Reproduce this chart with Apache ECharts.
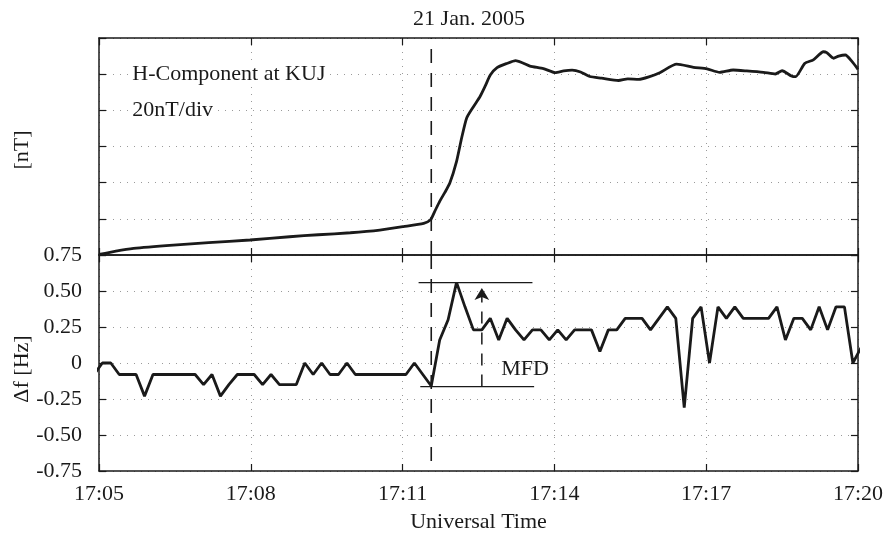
<!DOCTYPE html>
<html><head><meta charset="utf-8">
<script src="https://cdn.jsdelivr.net/npm/echarts@6/dist/echarts.min.js"></script>
<style>html,body{margin:0;padding:0;background:#fff}#c{width:886px;height:535px}</style>
</head><body><div id="c"></div>
<script>
// x values: seconds after 17:05:00 UT
const xTickLabels = ['17:05', '17:08', '17:11', '17:14', '17:17', '17:20'];
const fTickLabels = ['-0.75', '-0.50', '-0.25', '0', '0.25', '0.50', '0.75'];

// H-component at KUJ (nT above start level)
const hTimes = [0, 20, 41, 88, 130, 179, 226, 260, 298, 333, 361, 385, 393, 398, 404, 410, 416, 424, 430, 436,
  444, 452, 458, 464, 472, 483, 494, 502, 511, 527, 541, 551, 561, 571, 582, 596, 616, 627, 640, 652,
  665, 685, 705, 721, 736, 752, 768, 788, 802, 810, 821, 826, 837, 847, 859, 863, 871, 877, 885, 893, 900];
const hValues = [0.3, 2.2, 3.7, 5.5, 6.8, 8.3, 10.1, 11.2, 12.3, 13.8, 15.7, 17.5, 19.4, 24, 29.7, 34.5, 39.8, 51.8, 64.7, 75.8,
  82, 87.8, 93.5, 99.5, 103.6, 105.8, 107.5, 106.3, 104.5, 103.1, 100.9, 101.8, 102.2, 101.2, 98.7, 97.8, 96.5, 97.4, 97.1, 98.5,
  100.8, 105.5, 103.8, 102.9, 101, 102.3, 101.8, 101, 100.1, 101.9, 99, 98.6, 106, 107.9, 112.4, 111.9, 108.8, 110, 110.6, 106.9, 102.7];

// Doppler frequency shift, 10 s samples starting 17:04:54
const dfStart = -6, dfStep = 10;
const dfValues = [-0.08, 0, 0, -0.08, -0.08, -0.08, -0.23, -0.08, -0.08, -0.08, -0.08, -0.08, -0.08, -0.15, -0.08, -0.23,
  -0.15, -0.08, -0.08, -0.08, -0.15, -0.08, -0.15, -0.15, -0.15, 0, -0.08, 0, -0.08, -0.08, 0,
  -0.08, -0.08, -0.08, -0.08, -0.08, -0.08, -0.08, 0, -0.08, -0.16,
  0.16, 0.30, 0.56, 0.39, 0.23, 0.23, 0.31, 0.16, 0.31, 0.23, 0.16, 0.23, 0.23, 0.16, 0.23, 0.16, 0.23, 0.23, 0.23, 0.08,
  0.23, 0.23, 0.31, 0.31, 0.31, 0.23, 0.31, 0.39, 0.31, -0.31, 0.31, 0.39, 0, 0.39, 0.31, 0.39, 0.31, 0.31, 0.31, 0.31,
  0.39, 0.16, 0.31, 0.31, 0.23, 0.39, 0.23, 0.39, 0.39, 0, 0.11];

// annotations
const onsetTime = 394;
const onsetBottomEnd = -0.68;
const mfdTop = 0.558, mfdBottom = -0.164;
const mfdTopSpan = [379, 514], mfdBottomSpan = [381, 516];
const mfdArrowTime = 454;
const mfdArrowHead = 0.521;
const mfdLabel = { text: 'MFD', at: [477, -0.04] };
const hLabels = [{ text: 'H-Component at KUJ', at: [36, 100] }, { text: '20nT/div', at: [36, 80] }];

const FONT = 'Liberation Serif';
const INK = '#1a1a1a';
const axisLine = { show: true, onZero: false, lineStyle: { color: INK, width: 1.5 } };
const tick = { show: true, inside: true, length: 7, lineStyle: { color: INK, width: 1.2 } };
const dotted = { show: true, lineStyle: { color: '#9a9a9a', width: 1, type: [1, 6] } };
const noLabel = { show: false };
const txt = { fontFamily: FONT, fontSize: 22, color: INK };

const xBase = { type: 'value', min: 0, max: 900, interval: 180, axisLine, axisTick: tick };
const dfData = dfValues.map((v, i) => [dfStart + i * dfStep, v]);
const hData = hTimes.map((t, i) => [t, hValues[i]]);

const chart = echarts.init(document.getElementById('c'), null, { renderer: 'canvas' });
chart.setOption({
  animation: false,
  backgroundColor: '#fff',
  grid: [
    { left: 99, right: 28, top: 38, height: 217 },
    { left: 99, right: 28, top: 255, height: 216 }
  ],
  xAxis: [
    Object.assign({ gridIndex: 0, position: 'bottom', axisLabel: noLabel, splitLine: dotted }, xBase),
    Object.assign({ gridIndex: 0, position: 'top', axisLabel: noLabel, splitLine: { show: false } }, xBase),
    Object.assign({ gridIndex: 1, position: 'bottom', splitLine: dotted,
      axisLabel: Object.assign({ margin: 12, formatter: v => xTickLabels[Math.round(v / 180)] }, txt),
      name: 'Universal Time', nameLocation: 'middle', nameGap: 40, nameTextStyle: txt }, xBase),
    Object.assign({ gridIndex: 1, position: 'top', axisLabel: noLabel, splitLine: { show: false } }, xBase)
  ],
  yAxis: [
    { gridIndex: 0, type: 'value', min: 0, max: 120, interval: 20, position: 'left', axisLine, axisTick: tick, axisLabel: noLabel, splitLine: dotted },
    { gridIndex: 0, type: 'value', min: 0, max: 120, interval: 20, position: 'right', axisLine, axisTick: tick, axisLabel: noLabel, splitLine: { show: false } },
    { gridIndex: 1, type: 'value', min: -0.75, max: 0.75, interval: 0.25, position: 'left', axisLine, axisTick: tick,
      axisLabel: Object.assign({ margin: 17, formatter: v => fTickLabels[Math.round((v + 0.75) / 0.25)] }, txt), splitLine: dotted },
    { gridIndex: 1, type: 'value', min: -0.75, max: 0.75, interval: 0.25, position: 'right', axisLine, axisTick: tick, axisLabel: noLabel, splitLine: { show: false } }
  ],
  graphic: [
    { type: 'text', x: 469, y: 19, style: { text: '21 Jan. 2005', font: '22px "Liberation Serif"', fill: INK, align: 'center', verticalAlign: 'middle', textAlign: 'center', textVerticalAlign: 'middle' } },
    { type: 'text', x: 22, y: 150, rotation: Math.PI / 2, style: { text: '[nT]', font: '22px "Liberation Serif"', fill: INK, align: 'center', verticalAlign: 'middle', textAlign: 'center', textVerticalAlign: 'middle' } },
    { type: 'text', x: 22, y: 369, rotation: Math.PI / 2, style: { text: 'Δf [Hz]', font: '22px "Liberation Serif"', fill: INK, align: 'center', verticalAlign: 'middle', textAlign: 'center', textVerticalAlign: 'middle' } }
  ],
  series: [
    { type: 'line', xAxisIndex: 0, yAxisIndex: 0, data: hData, showSymbol: false, smooth: 0.2, lineStyle: { color: INK, width: 2.8 }, z: 5 },
    { type: 'line', xAxisIndex: 0, yAxisIndex: 0, data: [[onsetTime, 0], [onsetTime, 120]], showSymbol: false, lineStyle: { color: INK, width: 1.6, type: [14, 10] }, z: 4 },
    { type: 'scatter', xAxisIndex: 0, yAxisIndex: 0, symbolSize: 0, z: 6, itemStyle: { opacity: 1 },
      data: hLabels.map(l => ({ value: l.at, name: l.text })),
      label: Object.assign({ show: true, position: 'right', distance: 0, formatter: p => p.name, backgroundColor: '#fff', padding: [0, 3] }, txt) },
    { type: 'line', xAxisIndex: 2, yAxisIndex: 2, data: dfData, showSymbol: false, lineStyle: { color: INK, width: 2.8 }, z: 5 },
    { type: 'line', xAxisIndex: 2, yAxisIndex: 2, data: [[onsetTime, 0.75], [onsetTime, onsetBottomEnd]], showSymbol: false, lineStyle: { color: INK, width: 1.6, type: [14, 10] }, z: 4 },
    { type: 'line', xAxisIndex: 2, yAxisIndex: 2, data: [[mfdTopSpan[0], mfdTop], [mfdTopSpan[1], mfdTop]], showSymbol: false, lineStyle: { color: INK, width: 1.3 }, z: 4 },
    { type: 'line', xAxisIndex: 2, yAxisIndex: 2, data: [[mfdBottomSpan[0], mfdBottom], [mfdBottomSpan[1], mfdBottom]], showSymbol: false, lineStyle: { color: INK, width: 1.3 }, z: 4 },
    { type: 'line', xAxisIndex: 2, yAxisIndex: 2, data: [[mfdArrowTime, mfdBottom], [mfdArrowTime, mfdArrowHead]], showSymbol: false, lineStyle: { color: INK, width: 1.5, type: [12, 9] }, z: 4 },
    { type: 'scatter', xAxisIndex: 2, yAxisIndex: 2, data: [[mfdArrowTime, mfdArrowHead]], symbol: 'arrow', symbolSize: [11, 12], itemStyle: { color: INK, opacity: 1 }, z: 6 },
    { type: 'scatter', xAxisIndex: 2, yAxisIndex: 2, symbolSize: 0, z: 6, itemStyle: { opacity: 1 },
      data: [{ value: mfdLabel.at, name: mfdLabel.text }],
      label: Object.assign({ show: true, position: 'right', distance: 0, formatter: p => p.name }, txt) }
  ]
});
</script>
</body></html>
